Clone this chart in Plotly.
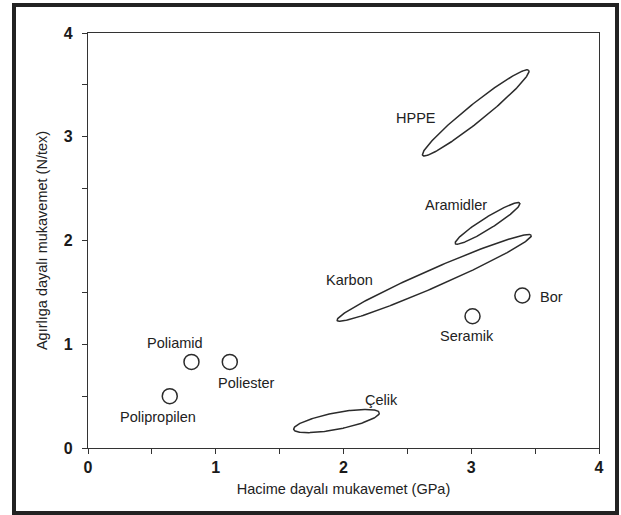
import numpy as np
import plotly.graph_objects as go

# Point materials (circles)
point_names = ["Polipropilen", "Poliamid", "Poliester", "Seramik", "Bor"]
point_x = [0.64, 0.81, 1.11, 3.01, 3.40]
point_y = [0.50, 0.83, 0.83, 1.27, 1.47]
point_label_x = [0.55, 0.68, 1.24, 2.97, 3.52]
point_label_y = [0.30, 1.01, 0.63, 1.08, 1.46]
point_label_anchor = ["center", "center", "center", "center", "left"]

# Region materials (ellipses): end tips and half-thickness (GPa units)
region_names = ["HPPE", "Aramidler", "Karbon", "Çelik"]
region_x1 = [2.62, 2.875, 1.95, 1.61]
region_y1 = [2.82, 1.97, 1.23, 0.18]
region_x2 = [3.45, 3.38, 3.47, 2.28]
region_y2 = [3.64, 2.36, 2.05, 0.34]
region_halfwidth = [0.068, 0.045, 0.07, 0.065]
region_label_x = [2.57, 2.88, 2.05, 2.30]
region_label_y = [3.18, 2.34, 1.62, 0.46]

x_ticks = [0, 1, 2, 3, 4]
y_ticks = [0, 1, 2, 3, 4]

# layout geometry
W, H = 621, 515
ml, mr, mt, mb = 88, 22, 33, 67
pw, ph = W - ml - mr, H - mt - mb
sx, sy = pw / 4.0, ph / 4.0

fig = go.Figure()

line_col = "#2b2b2b"
t = np.linspace(0, 2 * np.pi, 200)
for i, name in enumerate(region_names):
    ax, ay = region_x1[i] * sx, region_y1[i] * sy
    bx, by = region_x2[i] * sx, region_y2[i] * sy
    cx, cy = (ax + bx) / 2, (ay + by) / 2
    a = np.hypot(bx - ax, by - ay) / 2
    b = region_halfwidth[i] * sx
    ang = np.arctan2(by - ay, bx - ax)
    px = cx + a * np.cos(t) * np.cos(ang) - b * np.sin(t) * np.sin(ang)
    py = cy + a * np.cos(t) * np.sin(ang) + b * np.sin(t) * np.cos(ang)
    fig.add_trace(go.Scatter(x=px / sx, y=py / sy, mode="lines",
                             line=dict(color=line_col, width=1.5),
                             hoverinfo="skip", showlegend=False, name=name))

fig.add_trace(go.Scatter(x=point_x, y=point_y, mode="markers",
                         marker=dict(symbol="circle-open", size=15,
                                     color=line_col, line=dict(width=1.5)),
                         text=point_names, showlegend=False))

FONT = "Liberation Sans, Arial, sans-serif"
font_txt = dict(family=FONT, size=14.5, color="#222")
for i, name in enumerate(point_names):
    fig.add_annotation(x=point_label_x[i], y=point_label_y[i], text=name,
                       showarrow=False, xanchor=point_label_anchor[i],
                       yanchor="middle", font=font_txt)
for i, name in enumerate(region_names):
    fig.add_annotation(x=region_label_x[i], y=region_label_y[i], text=name,
                       showarrow=False, xanchor="center", yanchor="middle",
                       font=font_txt)

# outer frame
fx0 = (14 - ml) / pw
fx1 = (617 - ml) / pw
fy1 = (mt + ph - 5) / ph
fy0 = (mt + ph - 513) / ph
fig.add_shape(type="rect", xref="paper", yref="paper", x0=fx0, x1=fx1,
              y0=fy0, y1=fy1, line=dict(color="#222", width=4),
              fillcolor="rgba(0,0,0,0)", layer="above")

axis_common = dict(range=[0, 4], showgrid=False, zeroline=False,
                   showline=True, linecolor="#333", linewidth=1.2, mirror=True,
                   ticks="outside", ticklen=5, tickwidth=1.2, tickcolor="#333",
                   tickfont=dict(family=FONT, size=16, color="#1a1a1a",
                                 weight="bold"),
                   minor=dict(dtick=0.5, ticks="outside", ticklen=5,
                              tickwidth=1.2, tickcolor="#333"))

fig.update_layout(
    width=W, height=H,
    margin=dict(l=ml, r=mr, t=mt, b=mb),
    paper_bgcolor="white", plot_bgcolor="white",
    xaxis=dict(**axis_common, tickvals=x_ticks,
               title=dict(text="Hacime dayalı mukavemet (GPa)", standoff=8,
                          font=dict(family=FONT, size=14.5, color="#222"))),
    yaxis=dict(**axis_common, tickvals=y_ticks, ticklabelstandoff=6,
               title=dict(text="Agırlıga dayalı mukavemet (N/tex)", standoff=12,
                          font=dict(family=FONT, size=14.5, color="#222"))),
)

fig.write_html("out.html", config={"displayModeBar": False},
               post_script="document.body.style.margin='0';")
